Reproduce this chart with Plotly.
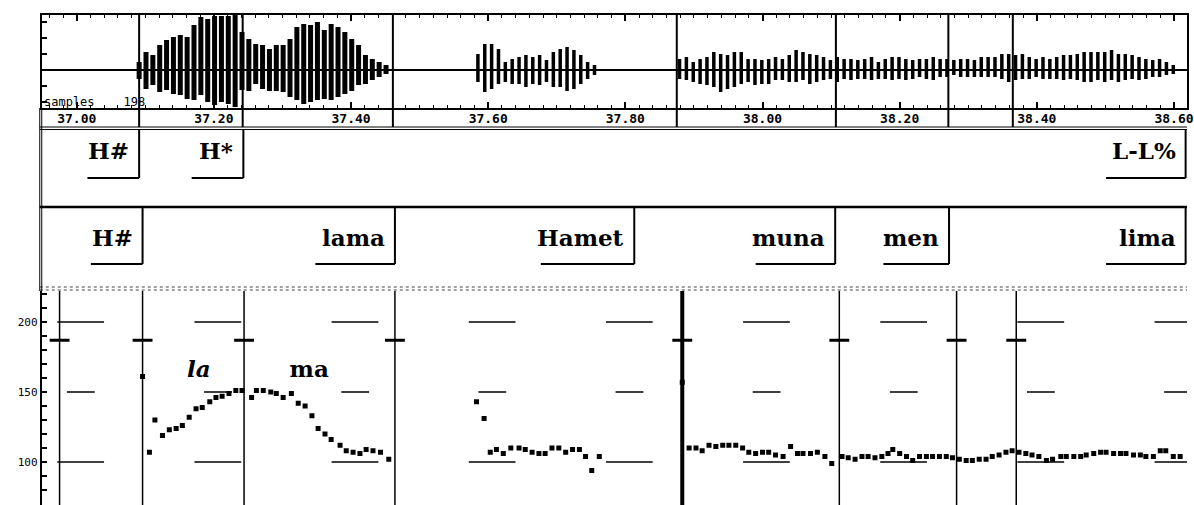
import plotly.graph_objects as go

# ---------------- display geometry ----------------
W, H = 1194, 505
PANEL_LEFT = 42            # px, left edge of every panel


def py(px):
    """paper y from a pixel row measured from the top"""
    return 1 - px / H


# ---------------- data ----------------
t_view = [36.949, 38.619]                      # visible time span (s)

ruler_ticks = [37.0, 37.2, 37.4, 37.6, 37.8, 38.0, 38.2, 38.4, 38.6]
ruler_text = ["37.00", "37.20", "37.40", "37.60", "37.80",
              "38.00", "38.20", "38.40", "38.60"]

# waveform peak envelope, one frame every 10 ms (display amplitude units)
frame_step = 0.01
lama_start = 37.091
lama_top = [8, 18, 15, 25, 30, 33, 35, 33, 45, 53, 51, 54, 54, 54, 55, 38, 31, 26, 25, 21,
            25, 25, 31, 43, 46, 45, 48, 40, 46, 43, 38, 31, 25, 15, 11, 8, 5]
lama_bot = [-9, -19, -15, -22, -20, -24, -25, -29, -30, -25, -32, -35, -32, -34, -37, -20, -21, -14, -19, -21,
            -21, -22, -27, -30, -34, -32, -30, -29, -30, -27, -24, -21, -15, -14, -10, -7, -4]
hamet_start = 37.585
hamet_top = [16, 26, 26, 21, 8, 11, 13, 15, 13, 15, 10, 18, 21, 23, 20, 15, 8, 5]
hamet_bot = [-12, -22, -19, -14, -12, -14, -14, -17, -14, -15, -12, -17, -17, -21, -19, -14, -9, -5]
tail_start = 37.879
tail_top = [11, 13, 8, 11, 13, 18, 16, 15, 18, 18, 11, 11, 10, 11, 13, 11, 15, 20, 18, 16,
            15, 13, 10, 13, 11, 11, 10, 11, 13, 8, 11, 13, 13, 11, 10, 11, 11, 13, 11, 11,
            10, 11, 11, 10, 13, 13, 13, 16, 16, 15, 16, 13, 11, 13, 11, 13, 15, 15, 16, 18,
            18, 18, 18, 20, 16, 16, 15, 13, 11, 10, 11, 8, 5]
tail_bot = [-9, -10, -12, -14, -15, -17, -22, -19, -17, -14, -12, -15, -14, -14, -10, -10, -12, -12, -10, -14,
            -12, -10, -9, -12, -9, -10, -9, -9, -10, -9, -9, -10, -9, -10, -9, -7, -9, -10, -7, -7,
            -5, -7, -7, -7, -7, -7, -7, -9, -12, -10, -9, -9, -7, -9, -9, -9, -10, -9, -10, -12,
            -12, -10, -12, -10, -12, -10, -9, -10, -9, -7, -7, -5, -4]

# label marks in the waveform window (s)
wave_marks = [37.091, 37.242, 37.461, 37.875, 38.107, 38.271, 38.365]

# tone tier and word tier: label text and end time
tone_labels = ["H#", "H*", "L-L%"]
tone_times = [37.091, 37.243, 38.617]
word_labels = ["H#", "lama", "Hamet", "muna", "men", "lima"]
word_times = [37.096, 37.464, 37.813, 38.106, 38.272, 38.617]

# F0 track (Hz)
f0_t = [37.096, 37.106, 37.114, 37.125, 37.135, 37.145, 37.154, 37.164, 37.174, 37.183,
        37.194, 37.203, 37.212, 37.222, 37.232, 37.241, 37.255, 37.262, 37.272, 37.283,
        37.291, 37.301, 37.313, 37.323, 37.333, 37.343, 37.352, 37.362, 37.371, 37.384,
        37.393, 37.403, 37.413, 37.422, 37.432, 37.443, 37.455,
        37.583, 37.594, 37.603, 37.612, 37.622, 37.633, 37.645, 37.654, 37.664, 37.674,
        37.683, 37.693, 37.703, 37.713, 37.723, 37.733, 37.742, 37.751, 37.762,
        37.883, 37.893, 37.903, 37.912, 37.922, 37.932, 37.942, 37.951, 37.961, 37.971,
        37.980, 37.990, 38.000, 38.009, 38.019, 38.030, 38.041, 38.051, 38.059, 38.070,
        38.080, 38.091, 38.101, 38.116, 38.125, 38.135, 38.145, 38.154, 38.164, 38.174,
        38.183, 38.190, 38.200, 38.210, 38.219, 38.229, 38.239, 38.248, 38.258, 38.268,
        38.277, 38.287, 38.297, 38.306, 38.316, 38.326, 38.335, 38.345, 38.355, 38.364,
        38.374, 38.384, 38.393, 38.403, 38.414, 38.423, 38.435, 38.443, 38.454, 38.464,
        38.472, 38.483, 38.493, 38.501, 38.512, 38.522, 38.530, 38.541, 38.551, 38.559,
        38.570, 38.580, 38.588, 38.599, 38.609]
f0_hz = [161, 107, 130, 119, 123, 124, 126, 132, 138, 139,
         143, 146, 147, 149, 151, 151, 146, 151, 151, 150,
         149, 146, 149, 142, 140, 133, 124, 120, 116, 112,
         108, 107, 106, 109, 108, 107, 102,
         143, 131, 107, 109, 106, 110, 110, 109, 107, 106,
         106, 110, 110, 107, 109, 109, 104, 94, 104,
         157, 110, 110, 108, 112, 111, 112, 112, 112, 110,
         107, 106, 107, 107, 105, 104, 111, 106, 106, 106,
         107, 104, 99, 104, 103, 102, 104, 104, 103, 104,
         106, 109, 106, 104, 101, 104, 104, 104, 104, 104,
         103, 102, 101, 101, 102, 102, 104, 105, 107, 108,
         107, 106, 105, 104, 101, 102, 104, 104, 104, 104,
         105, 106, 107, 107, 106, 106, 106, 105, 105, 104,
         104, 108, 108, 104, 104]

# marks in the F0 window, their level, and the cursor
f0_marks = [36.975, 37.096, 37.244, 37.464, 37.883, 38.112, 38.283, 38.370]
mark_level_hz = 187
cursor_t = 37.883

# syllable labels written over the F0 contour
syllables = ["<i>la</i>", "ma"]
syllable_t = [37.178, 37.339]
syllable_hz = [165, 165]

# reference levels of the F0 window
ref_hz = [100, 150, 200]
f0_view = [69.3, 222.1]

# ---------------- derived helpers ----------------
px_per_s = (W - PANEL_LEFT) / (t_view[1] - t_view[0])


def strokes(start, top, bot):
    xs, ys = [], []
    for i, (a, b) in enumerate(zip(top, bot)):
        t = start + i * frame_step
        xs += [t, t, None]
        ys += [b, a, None]
    return xs, ys


fig = go.Figure()

# ---- waveform ----
fig.add_trace(go.Scatter(x=t_view, y=[0, 0], mode="lines",
                         line=dict(color="black", width=2), xaxis="x", yaxis="y",
                         hoverinfo="skip"))
for start, top, bot, lw in [(lama_start, lama_top, lama_bot, 5),
                            (hamet_start, hamet_top, hamet_bot, 3.5),
                            (tail_start, tail_top, tail_bot, 3.5)]:
    xs, ys = strokes(start, top, bot)
    fig.add_trace(go.Scatter(x=xs, y=ys, mode="lines",
                             line=dict(color="black", width=lw), xaxis="x", yaxis="y",
                             hoverinfo="skip"))

# ---- F0 reference dashes (one per 0.2 s period) ----
period, phase = 0.2, 36.9717
for hz in ref_hz:
    long_dash = hz != 150
    off = 0.0 if long_dash else 0.014
    length = 47 / px_per_s if long_dash else 28 / px_per_s
    xs, ys = [], []
    k = 0
    while phase + k * period < t_view[1]:
        s = phase + k * period + off
        xs += [s, s + length, None]
        ys += [hz, hz, None]
        k += 1
    fig.add_trace(go.Scatter(x=xs, y=ys, mode="lines", line=dict(color="black", width=1.5),
                             xaxis="x2", yaxis="y2", hoverinfo="skip"))

# short level marks on each F0 mark
half = 10 / px_per_s
xs, ys = [], []
for t in f0_marks:
    xs += [t - half, t + half, None]
    ys += [mark_level_hz, mark_level_hz, None]
fig.add_trace(go.Scatter(x=xs, y=ys, mode="lines", line=dict(color="black", width=3),
                         xaxis="x2", yaxis="y2", hoverinfo="skip"))

# F0 points
fig.add_trace(go.Scatter(x=f0_t, y=f0_hz, mode="markers",
                         marker=dict(symbol="square", size=5, color="black", line=dict(width=0)),
                         xaxis="x2", yaxis="y2", hoverinfo="skip"))

# syllables
fig.add_trace(go.Scatter(x=syllable_t, y=syllable_hz, mode="text", text=syllables,
                         textfont=dict(family="DejaVu Serif", size=23, color="black", weight="bold"),
                         xaxis="x2", yaxis="y2", hoverinfo="skip"))

shapes = []
annotations = []

# waveform marks, running through the time ruler
for t in wave_marks:
    shapes.append(dict(type="line", xref="x", yref="paper", x0=t, x1=t,
                       y0=py(127), y1=py(15), line=dict(color="black", width=2)))

# F0 marks and cursor
for t in f0_marks:
    shapes.append(dict(type="line", xref="x2", yref="paper", x0=t, x1=t,
                       y0=py(505), y1=py(291), line=dict(color="black", width=1.5)))
shapes.append(dict(type="line", xref="x2", yref="paper", x0=cursor_t, x1=cursor_t,
                   y0=py(505), y1=py(291), line=dict(color="black", width=4)))

# ruler bottom and tier frames
for yy, wdt in [(127, 1), (129.5, 1), (207, 2.5)]:
    shapes.append(dict(type="line", xref="paper", yref="paper", x0=40 / W, x1=1,
                       y0=py(yy), y1=py(yy), line=dict(color="black", width=wdt)))
for yy in (287, 290):
    shapes.append(dict(type="line", xref="paper", yref="paper", x0=40 / W, x1=1,
                       y0=py(yy), y1=py(yy), line=dict(color="#444", width=1, dash="dot")))
for xx in (40, 42):
    shapes.append(dict(type="line", xref="paper", yref="paper", x0=xx / W, x1=xx / W,
                       y0=py(291), y1=py(108), line=dict(color="black", width=1)))

label_font = dict(family="DejaVu Serif", size=23, color="black", weight="bold")


def tier(labels, times, top_px, bottom_px, text_px):
    for lab, t in zip(labels, times):
        left = t - (14 * len(lab) + 24) / px_per_s
        shapes.append(dict(type="line", xref="x", yref="paper", x0=t, x1=t,
                           y0=py(bottom_px), y1=py(top_px), line=dict(color="black", width=2)))
        shapes.append(dict(type="line", xref="x", yref="paper", x0=left, x1=t,
                           y0=py(bottom_px), y1=py(bottom_px), line=dict(color="black", width=2)))
        annotations.append(dict(text=lab, x=t, y=py(text_px), xref="x", yref="paper",
                                xanchor="right", yanchor="middle", xshift=-8, showarrow=False,
                                font=label_font))


tier(tone_labels, tone_times, 129, 178, 150)
tier(word_labels, word_times, 208, 264, 237)

annotations.append(dict(text="samples    198", x=PANEL_LEFT / W, y=py(102), xref="paper",
                        yref="paper", xanchor="left", yanchor="middle", showarrow=False,
                        font=dict(family="DejaVu Sans Mono", size=12, color="black")))

mono = dict(family="DejaVu Sans Mono", size=13, color="black", weight="bold")

fig.update_layout(
    width=W, height=H, margin=dict(l=0, r=0, t=0, b=0),
    paper_bgcolor="white", plot_bgcolor="white", showlegend=False,
    shapes=shapes, annotations=annotations,
    xaxis=dict(domain=[PANEL_LEFT / W, 1], range=t_view, anchor="y",
               tickvals=ruler_ticks, ticktext=ruler_text, ticks="inside", ticklen=6,
               tickwidth=2, tickcolor="black", mirror="allticks", showline=True,
               linecolor="black", linewidth=2, showgrid=False, zeroline=False,
               tickfont=mono, ticklabeloverflow="allow", ticklabelstandoff=-3,
               minor=dict(dtick=0.02, tick0=37.0, ticks="inside", ticklen=3,
                          tickcolor="black", tickwidth=1)),
    yaxis=dict(domain=[py(108), py(15)], range=[-38, 55], anchor="x",
               showline=True, mirror=True, linecolor="black", linewidth=2,
               ticks="inside", ticklen=5, tickwidth=2, tickcolor="black", dtick=16,
               tick0=0, showticklabels=False, showgrid=False, zeroline=False),
    xaxis2=dict(domain=[PANEL_LEFT / W, 1], range=t_view, anchor="y2",
                showticklabels=False, ticks="", showgrid=False, zeroline=False,
                showline=False),
    yaxis2=dict(domain=[0, py(291)], range=f0_view, anchor="x2",
                showline=True, linecolor="black", linewidth=2,
                tickvals=list(range(70, 230, 10)),
                ticktext=[str(v) if v in ref_hz else "" for v in range(70, 230, 10)],
                ticks="inside", ticklen=5, tickwidth=1.5, tickcolor="black",
                tickfont=dict(family="DejaVu Sans Mono", size=11, color="black"),
                showgrid=False, zeroline=False),
)

fig.write_html("out.html", config={"displayModeBar": False})
